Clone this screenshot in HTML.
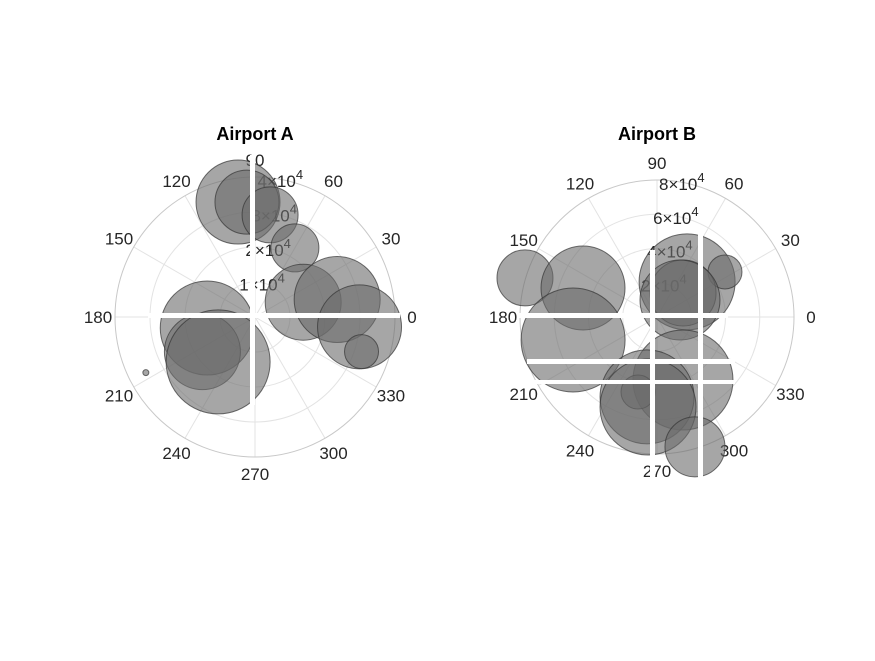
<!DOCTYPE html>
<html><head><meta charset="utf-8"><style>
body{margin:0;background:#fff;}
svg text{font-family:"Liberation Sans",sans-serif;}
</style></head><body>
<svg id="chart" width="875" height="656" xmlns="http://www.w3.org/2000/svg">
<rect width="875" height="656" fill="#fff"/>
</svg>
<script>
// Airport A data
const thetaA = [98.4, 94, 81.6, 60, 17, 12, 354.6, 342, 193, 213.4, 230.6, 207];
const rA = [33200, 32900, 29500, 22800, 14400, 24000, 30000, 32000, 14000, 18000, 16600, 35000];
const sizeA = [42, 32, 28, 24, 38, 43, 42, 17, 47, 38, 52, 3];
const ticksA = [10000, 20000, 30000, 40000];
const tickLabelsA = ["1", "2", "3", "4"];
// Airport B data
const thetaB = [163.5, 158.6, 195.3, 49.4, 33.5, 42.7, 36.5, 292.4, 262.9, 255.8, 264.3, 286.3];
const rB = [80400, 46400, 50800, 27000, 47600, 20700, 16700, 39800, 47000, 45200, 52800, 79000];
const sizeB = [28, 42, 52, 48, 17, 33, 40, 50, 47, 17, 48, 30];
const ticksB = [20000, 40000, 60000, 80000];
const tickLabelsB = ["2", "4", "6", "8"];
const angleTicks = [0, 30, 60, 90, 120, 150, 180, 210, 240, 270, 300, 330];

const NS = "http://www.w3.org/2000/svg";
const svg = document.getElementById("chart");
function mk(tag, attrs, parent) {
  const e = document.createElementNS(NS, tag);
  for (const k in attrs) e.setAttribute(k, attrs[k]);
  (parent || svg).appendChild(e);
  return e;
}
function drawPolar(cx, cy, R, rmax, theta, rv, sz, ticks, tlabels, title, key, bars) {
  const g = mk("g", {});
  
  
  const px = (t, r) => cx + (r / rmax) * R * Math.cos(t * Math.PI / 180);
  const py = (t, r) => cy - (r / rmax) * R * Math.sin(t * Math.PI / 180);
  angleTicks.forEach(a => {
    const l = mk("line", {x1: cx, y1: cy, x2: px(a, rmax), y2: py(a, rmax), stroke: "#e3e3e3", "stroke-width": 1}, g);
    
    
  });
  ticks.forEach((t, i) => {
    const c = mk("circle", {cx: cx, cy: cy, r: (t / rmax) * R, fill: "none", stroke: i === ticks.length - 1 ? "#c8c8c8" : "#e3e3e3", "stroke-width": 1}, g);
    
    
  });
  ticks.forEach((t, i) => {
    const tx = mk("text", {x: px(80, t) + 1, y: py(80, t) + 8, "font-size": 17, fill: "#262626", "text-anchor": "middle"}, g);
    
    
    tx.innerHTML = tlabels[i] + '\u00d710<tspan dy="-8" font-size="13">4</tspan>';
  });
  angleTicks.forEach(a => {
    const lr = R + 17;
    const tx = mk("text", {x: cx + lr * Math.cos(a * Math.PI / 180), y: cy - lr * Math.sin(a * Math.PI / 180) + 6, "font-size": 17, fill: "#262626", "text-anchor": "middle"}, g);
    
    
    tx.textContent = a;
  });
  theta.forEach((t, i) => {
    const c = mk("circle", {cx: px(t, rv[i]), cy: py(t, rv[i]), r: sz[i], fill: "#6a6a6a", "fill-opacity": 0.6, stroke: "#333", "stroke-opacity": 0.7, "stroke-width": 1}, g);
    
    
  });
  bars.forEach(b => {
    const r = mk("rect", {x: b[0], y: b[1], width: b[2], height: b[3], fill: "#fff"}, g);
    
    
  });
  const tt = mk("text", {x: cx, y: 140, "font-size": 18, "font-weight": "bold", fill: "#000", "text-anchor": "middle"}, g);
  
  
  tt.textContent = title;
}
drawPolar(255, 317, 140, 40000, thetaA, rA, sizeA, ticksA, tickLabelsA, "Airport A", "a",
  [[148, 313, 252, 5], [250, 155, 5, 250]]);
drawPolar(657, 317, 137, 80000, thetaB, rB, sizeB, ticksB, tickLabelsB, "Airport B", "b",
  [[517, 313, 211, 5], [527, 359, 208, 5], [527, 380, 208, 4], [650, 250, 5, 228], [698, 233, 5, 245]]);
</script>
</body></html>
